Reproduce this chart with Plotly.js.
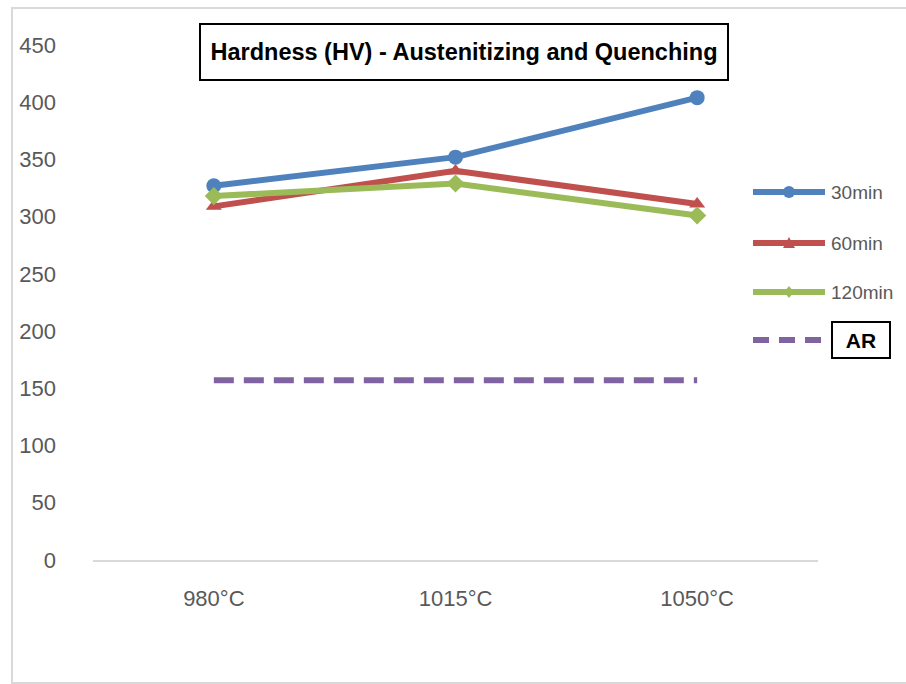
<!DOCTYPE html>
<html>
<head>
<meta charset="utf-8">
<script src="https://cdn.plot.ly/plotly-3.0.1.min.js"></script>
<style>
  html, body { margin: 0; padding: 0; background: #ffffff; }
  #chart { width: 906px; height: 684px; }
</style>
</head>
<body>
<div id="chart"></div>
<script>
// Austenitizing temperatures and Vickers hardness per holding time
const temperatures = ['980°C', '1015°C', '1050°C'];
const hv30min  = [327, 352, 404];
const hv60min  = [309, 340, 311];
const hv120min = [318, 329, 301];
const hvAR     = [157, 157, 157];   // as-received reference level
const yTicks   = [0, 50, 100, 150, 200, 250, 300, 350, 400, 450];
const seriesNames = ['30min', '60min', '120min', 'AR'];

const BLUE = '#4F81BD', RED = '#C0504D', GREEN = '#9BBB59', PURPLE = '#8064A2';
const FONT = '"Liberation Sans", Arial, sans-serif';

// plot area in pixels
const L = 93, R = 818, T = 45, B = 560;
const fx = px => (px - L) / (R - L);
const fy = py => (B - py) / (B - T);

const traces = [
  { x: temperatures, y: hv30min, name: seriesNames[0], mode: 'lines+markers',
    line: { color: BLUE, width: 6 }, marker: { symbol: 'circle', size: 15, color: BLUE } },
  { x: temperatures, y: hv60min, name: seriesNames[1], mode: 'lines+markers',
    line: { color: RED, width: 6 }, marker: { symbol: 'triangle-up', size: 14, color: RED } },
  { x: temperatures, y: hv120min, name: seriesNames[2], mode: 'lines+markers',
    line: { color: GREEN, width: 6 }, marker: { symbol: 'diamond', size: 14, color: GREEN } },
  { x: temperatures, y: hvAR, name: seriesNames[3], mode: 'lines',
    line: { color: PURPLE, width: 6, dash: '20px,10px' } }
];

// hand-placed legend on the right
const legendY = [192, 243, 292, 340];
const legendColors = [BLUE, RED, GREEN, PURPLE];
const shapes = [
  // outer frame
  { type: 'rect', xref: 'paper', yref: 'paper', x0: fx(12), x1: fx(912), y0: fy(683), y1: fy(8),
    line: { color: '#d9d9d9', width: 2 }, layer: 'below' }
];
const annotations = [
  { xref: 'paper', yref: 'paper', x: fx(464), y: fy(52), xanchor: 'center', yanchor: 'middle',
    text: '<b>Hardness (HV) - Austenitizing and Quenching</b>', showarrow: false,
    font: { family: FONT, size: 23.5, color: '#000000' },
    bordercolor: '#000000', borderwidth: 2, borderpad: 6, bgcolor: '#ffffff', width: 514, height: 42 }
];
const markerPaths = [
  null,
  'M -6 -5 L 6 -5 L 0 6 Z',
  'M 0 6 L 5 0 L 0 -6 L -5 0 Z'
];
legendY.forEach((py, i) => {
  shapes.push({ type: 'line', xref: 'paper', yref: 'paper', x0: fx(753), x1: fx(825), y0: fy(py), y1: fy(py),
    line: { color: legendColors[i], width: 6, dash: i === 3 ? '16px,10px' : 'solid' } });
  if (i === 0) {
    shapes.push({ type: 'circle', xref: 'paper', yref: 'paper', xsizemode: 'pixel', ysizemode: 'pixel',
      xanchor: fx(789), yanchor: fy(py), x0: -6, x1: 6, y0: -6, y1: 6,
      fillcolor: legendColors[i], line: { width: 0 } });
  } else if (i < 3) {
    shapes.push({ type: 'path', xref: 'paper', yref: 'paper', xsizemode: 'pixel', ysizemode: 'pixel',
      xanchor: fx(789), yanchor: fy(py), path: markerPaths[i],
      fillcolor: legendColors[i], line: { width: 0 } });
  }
  if (i < 3) {
    annotations.push({ xref: 'paper', yref: 'paper', x: fx(829), y: fy(py), xanchor: 'left', yanchor: 'middle',
      text: seriesNames[i], showarrow: false, font: { family: FONT, size: 19, color: '#595959' } });
  } else {
    annotations.push({ xref: 'paper', yref: 'paper', x: fx(861), y: fy(py), xanchor: 'center', yanchor: 'middle',
      text: '<b>' + seriesNames[i] + '</b>', showarrow: false, font: { family: FONT, size: 21, color: '#000000' },
      bordercolor: '#000000', borderwidth: 2, borderpad: 4, width: 48, height: 26, bgcolor: '#ffffff' });
  }
});

const layout = {
  width: 906, height: 684,
  margin: { l: L, r: 906 - R, t: T, b: 684 - B },
  paper_bgcolor: '#ffffff', plot_bgcolor: '#ffffff',
  showlegend: false,
  font: { family: FONT, color: '#595959' },
  xaxis: {
    type: 'category', range: [-0.5, 2.5], showgrid: false, zeroline: false,
    showline: true, linecolor: '#d9d9d9', linewidth: 2, ticks: '',
    tickfont: { family: FONT, size: 22, color: '#595959' }, ticklabelstandoff: 18
  },
  yaxis: {
    range: [0, 450], tickvals: yTicks, ticktext: yTicks.map(String),
    showgrid: false, zeroline: false, showline: false, ticks: '',
    tickfont: { family: FONT, size: 22, color: '#595959' }, ticklabelstandoff: 36
  },
  shapes: shapes,
  annotations: annotations
};

Plotly.newPlot('chart', traces, layout, { displayModeBar: false, staticPlot: true });
</script>
</body>
</html>
